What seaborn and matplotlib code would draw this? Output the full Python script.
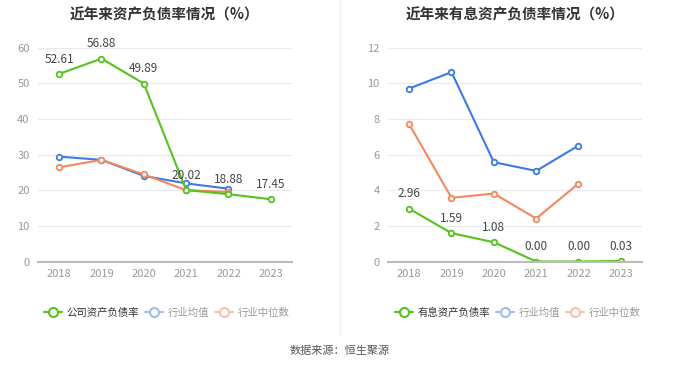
import matplotlib
matplotlib.use("Agg")
import matplotlib.pyplot as plt
import numpy as np
import pandas as pd
import seaborn as sns
from matplotlib.lines import Line2D

sns.set_style("white")
plt.rcParams["font.family"] = ["Noto Sans CJK SC", "DejaVu Sans"]

years = [2018, 2019, 2020, 2021, 2022, 2023]

# left chart: asset-liability ratio
company_debt = [52.61, 56.88, 49.89, 20.02, 18.88, 17.45]
industry_avg_debt = [29.4, 28.5, 24.0, 21.9, 20.4, np.nan]
industry_med_debt = [26.4, 28.5, 24.4, 20.0, 19.5, np.nan]

# right chart: interest-bearing asset-liability ratio
company_int = [2.96, 1.59, 1.08, 0.00, 0.00, 0.03]
industry_avg_int = [9.7, 10.62, 5.57, 5.08, 6.5, np.nan]
industry_med_int = [7.7, 3.57, 3.81, 2.41, 4.37, np.nan]

GREEN = "#52c41a"
BLUE = "#3a7be8"
ORANGE = "#f5875a"


def draw_panel(ax, company, avg, med, ymax, step, title):
    for vals, color in [(avg, BLUE), (med, ORANGE), (company, GREEN)]:
        df = pd.DataFrame({"year": years, "value": vals}).dropna()
        sns.lineplot(data=df, x="year", y="value", ax=ax, color=color,
                     linewidth=1.5, marker="o", markersize=4,
                     markerfacecolor="white", markeredgecolor=color,
                     markeredgewidth=1.3)
    for x, v in zip(years, company):
        ax.annotate(f"{v:.2f}", (x, v), xytext=(0, 6), textcoords="offset points",
                    ha="center", va="bottom", fontsize=8.5, color="#444444")
    ax.set_xlim(2017.5, 2023.5)
    ax.set_ylim(0, ymax)
    ax.set_yticks(np.arange(0, ymax + step / 2, step))
    ax.set_xticks(years)
    ax.set_xticklabels([str(y) for y in years])
    ax.grid(axis="y", color="#e6e9f0", linewidth=0.8)
    ax.set_axisbelow(True)
    for s in ["top", "right", "left"]:
        ax.spines[s].set_visible(False)
    ax.spines["bottom"].set_color("#bbbbbb")
    ax.spines["bottom"].set_linewidth(1.5)
    ax.tick_params(axis="both", length=0, labelsize=8, labelcolor="#999999", pad=6)
    ax.tick_params(axis="x", length=3, direction="inout", color="#bbbbbb", pad=4)
    ax.set_xlabel("")
    ax.set_ylabel("")
    ax.set_title(title, fontsize=10.5, fontweight="bold", color="#333333", pad=20)


def add_legend(fig, x, first_label):
    handles = [
        Line2D([], [], color=GREEN, marker="o", markersize=6.5, markerfacecolor="white",
               markeredgewidth=1.5, linewidth=1.5),
        Line2D([], [], color="#9dbdf3", marker="o", markersize=6.5, markerfacecolor="white",
               markeredgewidth=1.5, linewidth=1.5),
        Line2D([], [], color="#f9c1aa", marker="o", markersize=6.5, markerfacecolor="white",
               markeredgewidth=1.5, linewidth=1.5),
    ]
    leg = fig.legend(handles, [first_label, "行业均值", "行业中位数"], loc="center left",
                     bbox_to_anchor=(x, 0.148), ncol=3, frameon=False, fontsize=7.5,
                     handlelength=1.7, handletextpad=0.45, columnspacing=0.6,
                     borderpad=0, borderaxespad=0)
    for i, t in enumerate(leg.get_texts()):
        t.set_color("#333333" if i == 0 else "#999999")


fig = plt.figure(figsize=(6.8, 3.67), dpi=100)
ax1 = fig.add_axes([38 / 680, 1 - 261.5 / 367, 254 / 680, 214 / 367])
ax2 = fig.add_axes([388 / 680, 1 - 261.5 / 367, 254 / 680, 214 / 367])

draw_panel(ax1, company_debt, industry_avg_debt, industry_med_debt, 60, 10,
           "近年来资产负债率情况（%）")
draw_panel(ax2, company_int, industry_avg_int, industry_med_int, 12, 2,
           "近年来有息资产负债率情况（%）")

add_legend(fig, 44 / 680, "公司资产负债率")
add_legend(fig, 395 / 680, "有息资产负债率")

fig.add_artist(Line2D([340 / 680, 340 / 680], [1 - 335 / 367, 1], color="#f0f0f0",
                      linewidth=1, transform=fig.transFigure))
fig.text(0.5, 1 - 351 / 367, "数据来源：恒生聚源", ha="center", va="center",
         fontsize=8, color="#555555")

fig.savefig("out.png", dpi=100)
plt.close(fig)
